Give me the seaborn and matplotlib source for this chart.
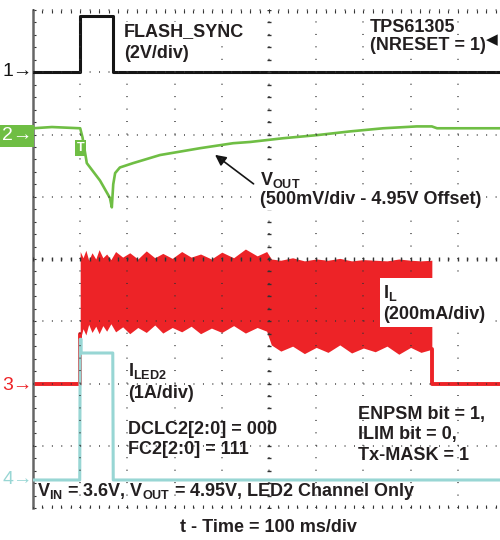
import numpy as np
import matplotlib
matplotlib.use("Agg")
import matplotlib.pyplot as plt
import seaborn as sns

# time in ms (100 ms/div), amplitude in screen divisions (0 = bottom, 8 = top)
sync_t = [0, 100, 100, 170, 170, 1000]
sync_div = [7.0, 7.0, 7.9, 7.9, 7.0, 7.0]

vout_t = [0, 40, 100, 105, 114, 142, 163, 167, 170, 174, 184, 212, 269, 354, 424,
          460, 530, 602, 672, 742, 813, 845, 856, 1000]
vout_div = [6.10, 6.12, 6.10, 5.95, 5.54, 5.26, 4.98, 4.83, 5.20, 5.38, 5.47, 5.54,
            5.67, 5.78, 5.86, 5.88, 5.94, 5.99, 6.05, 6.10, 6.13, 6.13, 6.10, 6.10]

il_pre_t = [0, 100, 100]
il_pre_div = [2.0, 2.0, 2.8]
il_post_t = [845, 845, 1000]
il_post_div = [2.55, 2.0, 2.0]
# inductor current switching band: upper / lower envelope
il_band_t = [100, 106, 112, 118, 125, 133, 140, 148, 156, 165, 175, 190, 205, 222,
             240, 258, 275, 295, 315, 335, 355, 378, 400, 425, 450, 475, 495,
             505, 525, 550, 575, 600, 625, 650, 675, 700, 725, 750, 775, 800, 822, 845]
il_hi = [4.12, 4.02, 4.14, 3.98, 4.10, 4.00, 4.15, 4.02, 4.08, 3.99, 4.12, 4.03, 4.10,
         4.00, 4.13, 4.02, 4.09, 4.01, 4.12, 4.03, 4.08, 4.00, 4.11, 4.02, 4.16, 4.05,
         4.12, 4.00, 3.98, 4.02, 3.97, 4.00, 3.98, 4.01, 3.97, 3.99, 3.98, 3.97, 4.00,
         3.98, 3.97, 3.98]
il_lo = [2.70, 2.88, 2.78, 2.95, 2.82, 2.92, 2.80, 2.93, 2.84, 2.96, 2.83, 2.91, 2.80,
         2.90, 2.82, 2.94, 2.81, 2.90, 2.83, 2.92, 2.80, 2.89, 2.82, 2.93, 2.81, 2.90,
         2.84, 2.62, 2.52, 2.60, 2.48, 2.58, 2.50, 2.62, 2.49, 2.57, 2.51, 2.60, 2.47,
         2.58, 2.50, 2.55]

led_t = [0, 99, 100, 102, 102, 169, 170, 1000]
led_div = [0.45, 0.45, 2.71, 2.71, 2.49, 2.49, 0.45, 0.45]

BLACK = "#151515"
GREEN = "#6fbe44"
RED = "#ed2327"
CYAN = "#98d6d4"
TXT = "#231f20"

sns.set_style("white")
plt.rcParams['font.family'] = ['Liberation Sans', 'DejaVu Sans']
plt.rcParams['mathtext.fontset'] = 'custom'
plt.rcParams['mathtext.rm'] = 'Liberation Sans'
plt.rcParams['mathtext.bf'] = 'Liberation Sans:bold'

W, H = 500, 540
fig = plt.figure(figsize=(5, 5.4), dpi=100)
ax = fig.add_axes([33 / W, 1 - 508 / H, 472 / W, 498 / H])
ax.set_xlim(0, 1000)
ax.set_ylim(0, 8)

# graticule (dotted, 5 dots per division)
for v in range(100, 1000, 100):
    ax.axvline(v, color="#333", lw=1.1, dashes=(0.6, 7.55), zorder=5)
for d in range(0, 9):
    ax.axhline(d, color="#333", lw=1.1, dashes=(0.6, 5.58), zorder=5, clip_on=False)
ax.plot(np.arange(0, 1001, 20), [4] * 51, "|", color="#333", ms=3, zorder=5)
ax.plot([500] * 41, np.arange(0, 8.01, 0.2), "_", color="#333", ms=3, zorder=5)

for s in ["top", "right", "bottom"]:
    ax.spines[s].set_visible(False)
ax.spines["left"].set_color("#666")
ax.spines["left"].set_linewidth(1.8)
ax.set_xticks(np.arange(0, 1001, 20), minor=True)
ax.set_yticks(np.arange(0, 8.01, 0.2), minor=True)
ax.set_xticks([])
ax.set_yticks([])
ax.tick_params(which="minor", direction="in", length=2.5, width=0.8, color="#333",
               top=True, bottom=True, left=True, right=False,
               labelbottom=False, labelleft=False)

# traces
ax.fill_between(il_band_t, il_lo, il_hi, color=RED, lw=0, zorder=2)
sns.lineplot(x=il_pre_t, y=il_pre_div, sort=False, estimator=None, color=RED, lw=2.8, ax=ax, zorder=2)
sns.lineplot(x=il_post_t, y=il_post_div, sort=False, estimator=None, color=RED, lw=2.8, ax=ax, zorder=2)
sns.lineplot(x=led_t, y=led_div, sort=False, estimator=None, color=CYAN, lw=2.2, ax=ax, zorder=3)
sns.lineplot(x=vout_t, y=vout_div, sort=False, estimator=None, color=GREEN, lw=1.9, ax=ax, zorder=3)
sns.lineplot(x=sync_t, y=sync_div, sort=False, estimator=None, color=BLACK, lw=2.2, ax=ax, zorder=4)


def px(x, y):
    return x / W, 1 - y / H


lab = dict(fontsize=13, fontweight="bold", color=TXT, va="center", ha="left")
wbox = dict(fc="white", ec="none", pad=1)

fig.text(*px(124, 32), "FLASH_SYNC", bbox=wbox, **lab)
fig.text(*px(124, 54), "(2V/div)", bbox=wbox, **lab)
fig.text(*px(370, 27), "TPS61305", bbox=wbox, **lab)
fig.text(*px(370, 46), "(NRESET = 1)", bbox=wbox, **lab)
fig.text(*px(260, 180), r"V$_\mathbf{OUT}$", bbox=wbox, **lab)
fig.text(*px(260, 200), "(500mV/div - 4.95V Offset)", bbox=wbox, **lab)
fig.text(*px(383, 303), "I$_\\mathbf{L}$\n(200mA/div)", linespacing=1.25,
         bbox=dict(fc="white", ec="none", pad=2.5), zorder=6, **lab)
fig.text(*px(128, 371), r"I$_\mathbf{LED2}$", **lab)
fig.text(*px(128, 394), "(1A/div)", **lab)
fig.text(*px(128, 430), "DCLC2[2:0] = 000", **lab)
fig.text(*px(128, 450), "FC2[2:0] = 111", **lab)
fig.text(*px(358, 415), "ENPSM bit = 1,", **lab)
fig.text(*px(358, 435), "ILIM bit = 0,", **lab)
fig.text(*px(358, 455), "Tx-MASK = 1", **lab)
fig.text(*px(37, 492), r"V$_\mathbf{IN}$ = 3.6V, V$_\mathbf{OUT}$ = 4.95V, LED2 Channel Only", **lab)
fig.text(*px(268, 528), "t - Time = 100 ms/div", fontsize=13, fontweight="bold",
         color=TXT, va="center", ha="center")

# arrow to VOUT trace
ax.annotate("", xy=(381, 5.70), xytext=(472, 5.18),
            arrowprops=dict(arrowstyle="-|>", color=BLACK, lw=1.2, mutation_scale=16))

# channel markers
mk = dict(fontsize=14, va="center", ha="right")
fig.text(*px(33, 72), "1→", color=BLACK, **mk)
fig.text(*px(32, 136), "2→", color="white",
         bbox=dict(fc=GREEN, ec="none", pad=1.5), **mk)
fig.text(*px(33, 385), "3→", color=RED, **mk)
fig.text(*px(33, 480), "4→", color=CYAN, **mk)
fig.text(*px(80.5, 148), "T", color="white", fontsize=9, fontweight="bold",
         ha="center", va="center", bbox=dict(fc=GREEN, ec="none", pad=1.5))
fig.text(*px(492, 40), "◀", color=BLACK, fontsize=11, ha="center", va="center")

fig.savefig("out.png", dpi=100)
